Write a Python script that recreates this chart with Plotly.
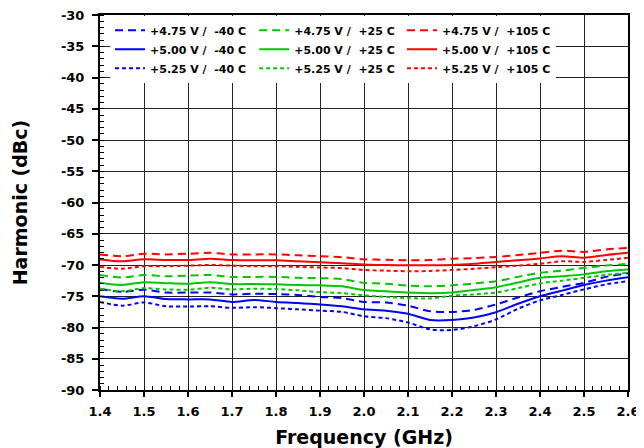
import plotly.graph_objects as go

freq = [1.40, 1.45, 1.50, 1.55, 1.60, 1.65, 1.70, 1.75, 1.80, 1.85, 1.90, 1.95,
        2.00, 2.05, 2.10, 2.15, 2.20, 2.25, 2.30, 2.35, 2.40, 2.45, 2.50, 2.55, 2.60]

v475_m40 = [-73.8, -74.3, -73.95, -74.4, -74.4, -74.4, -74.7, -74.6, -74.65, -74.8, -75.1, -75.3,
            -75.9, -76.0, -76.5, -77.4, -77.5, -77.2, -76.3, -75.2, -74.2, -73.5, -72.85, -71.9, -71.3]
v500_m40 = [-75.0, -75.4, -75.0, -75.45, -75.5, -75.5, -75.9, -75.6, -75.9, -76.1, -76.3, -76.6,
            -77.1, -77.3, -77.8, -78.8, -78.8, -78.4, -77.55, -76.2, -75.0, -74.1, -73.2, -72.5, -71.95]
v525_m40 = [-75.9, -76.5, -76.0, -76.6, -76.65, -76.6, -76.85, -76.75, -76.9, -77.1, -77.3, -77.5,
            -78.2, -78.5, -79.2, -80.3, -80.4, -79.8, -78.7, -77.0, -75.65, -74.8, -73.9, -73.1, -72.6]

v475_25 = [-71.6, -72.0, -71.6, -71.8, -71.7, -71.6, -71.9, -71.9, -71.9, -72.05, -72.1, -72.25,
           -72.85, -73.0, -73.3, -73.4, -73.25, -72.95, -72.6, -71.9, -71.25, -70.9, -70.45, -70.1, -69.8]
v500_25 = [-72.85, -73.2, -72.75, -72.9, -73.0, -72.75, -73.05, -73.05, -73.1, -73.2, -73.25, -73.4,
           -74.0, -74.2, -74.4, -74.5, -74.4, -74.0, -73.55, -72.8, -72.05, -71.8, -71.5, -71.0, -70.7]
v525_25 = [-73.8, -74.2, -73.7, -73.9, -73.95, -73.65, -73.9, -73.8, -73.85, -74.05, -74.35, -74.5,
           -74.85, -75.1, -75.3, -75.35, -74.9, -74.7, -74.4, -73.7, -72.95, -72.5, -72.05, -71.6, -71.25]

v475_105 = [-68.3, -68.6, -68.2, -68.3, -68.2, -68.05, -68.3, -68.3, -68.3, -68.45, -68.6, -68.75,
            -69.1, -69.15, -69.25, -69.2, -69.0, -68.9, -68.7, -68.4, -68.05, -67.7, -67.9, -67.5, -67.25]
v500_105 = [-69.1, -69.4, -69.1, -69.2, -69.2, -69.0, -69.2, -69.25, -69.25, -69.4, -69.55, -69.7,
            -69.9, -70.0, -70.05, -70.05, -70.0, -69.8, -69.5, -69.25, -68.95, -68.6, -68.85, -68.4, -68.05]
v525_105 = [-70.3, -70.6, -70.2, -70.2, -70.1, -70.0, -70.1, -70.2, -70.2, -70.3, -70.4, -70.5,
            -70.8, -70.9, -71.0, -70.95, -70.8, -70.6, -70.35, -70.1, -69.8, -69.4, -69.5, -69.2, -68.85]

x_ticks = [1.4, 1.5, 1.6, 1.7, 1.8, 1.9, 2.0, 2.1, 2.2, 2.3, 2.4, 2.5, 2.6]
y_ticks = [-90, -85, -80, -75, -70, -65, -60, -55, -50, -45, -40, -35, -30]

NB = "\u00a0"
PAD = NB * 4
# (legend name, values, colour, dash, legend id)
series = [
    ("+4.75 V /" + NB + " -40 C" + PAD, v475_m40, "#0000FF", "8px,5px", "legend"),
    ("+5.00 V /" + NB + " -40 C" + PAD, v500_m40, "#0000FF", "solid", "legend"),
    ("+5.25 V /" + NB + " -40 C" + PAD, v525_m40, "#0000FF", "4px,3px", "legend"),
    ("+4.75 V /" + NB + " +25 C" + PAD, v475_25, "#00C800", "8px,5px", "legend2"),
    ("+5.00 V /" + NB + " +25 C" + PAD, v500_25, "#00C800", "solid", "legend2"),
    ("+5.25 V /" + NB + " +25 C" + PAD, v525_25, "#00C800", "4px,3px", "legend2"),
    ("+4.75 V /" + NB + " +105 C", v475_105, "#FF0000", "8px,5px", "legend3"),
    ("+5.00 V /" + NB + " +105 C", v500_105, "#FF0000", "solid", "legend3"),
    ("+5.25 V /" + NB + " +105 C", v525_105, "#FF0000", "4px,3px", "legend3"),
]

fig = go.Figure()
for name, vals, color, dash, leg in series:
    fig.add_trace(go.Scatter(x=freq, y=vals, name=name, mode="lines", legend=leg,
                             line=dict(color=color, width=2, dash=dash, shape="spline",
                                       smoothing=0.8)))

font_family = "Verdana, DejaVu Sans, sans-serif"
leg_common = dict(orientation="v", y=0.998, xanchor="left", yanchor="top",
                  bgcolor="white", borderwidth=0, itemwidth=30, tracegroupgap=0,
                  font=dict(size=11, family=font_family, weight="bold"))

fig.update_layout(
    width=636, height=440,
    margin=dict(l=92, r=16, t=7, b=58, autoexpand=False),
    paper_bgcolor="white", plot_bgcolor="white",
    font=dict(family=font_family, color="black", size=13, weight="bold"),
    showlegend=True,
    legend=dict(x=0.019, **leg_common),
    legend2=dict(x=0.292, **leg_common),
    legend3=dict(x=0.572, **leg_common),
    xaxis=dict(range=[1.4, 2.6], tickvals=x_ticks, ticktext=[f"{t:.1f}" for t in x_ticks],
               automargin=False, ticklabelstandoff=3, ticklabeloverflow="allow",
               showgrid=True, gridcolor="#222", gridwidth=1,
               showline=True, linecolor="black", linewidth=2, mirror=True,
               ticks="outside", ticklen=5, tickwidth=1.5, tickcolor="black",
               minor=dict(dtick=0.02, tick0=1.4, ticks="inside", ticklen=4, tickcolor="black",
                          tickwidth=1, showgrid=False),
               tickfont=dict(size=13, weight="bold"),
               title=dict(text="Frequency (GHz)", font=dict(size=19, weight="bold"), standoff=14),
               zeroline=False),
    yaxis=dict(range=[-90, -30], tickvals=y_ticks, ticktext=[str(t) for t in y_ticks],
               automargin=False, ticklabelstandoff=5, ticklabeloverflow="allow",
               showgrid=True, gridcolor="#222", gridwidth=1,
               showline=True, linecolor="black", linewidth=2, mirror=True,
               ticks="outside", ticklen=6, tickwidth=1.5, tickcolor="black",
               minor=dict(dtick=1, tick0=-90, ticks="inside", ticklen=4, tickcolor="black",
                          tickwidth=1, showgrid=False),
               tickfont=dict(size=13, weight="bold"),
               title=dict(text="Harmonic (dBc)", font=dict(size=19, weight="bold"), standoff=28),
               zeroline=False),
)

fig.write_html("out.html")
